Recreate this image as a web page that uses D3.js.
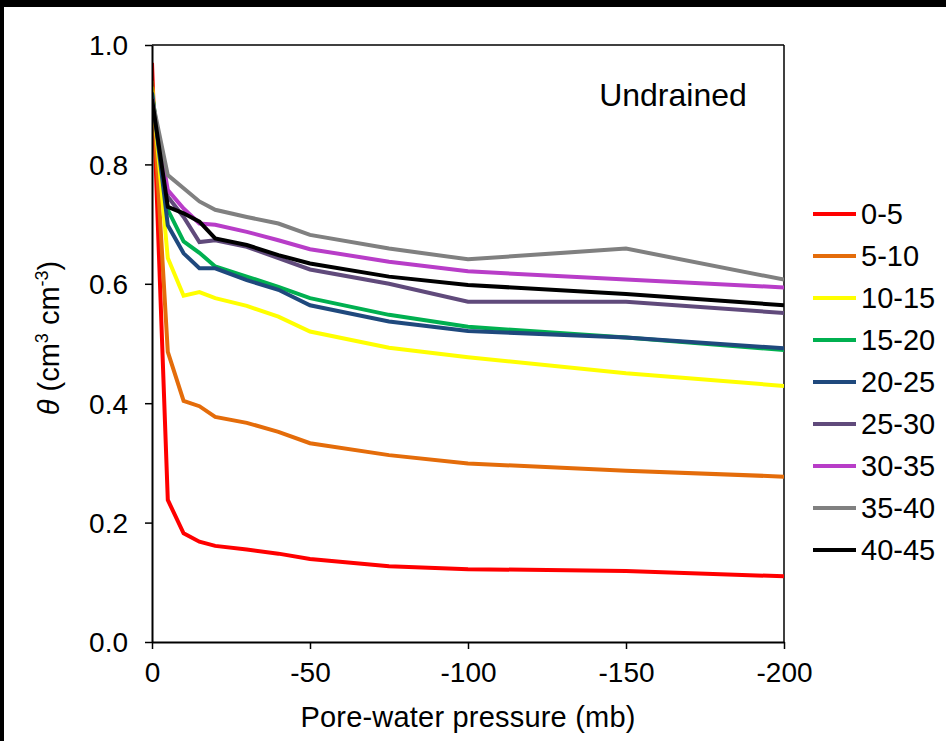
<!DOCTYPE html>
<html>
<head>
<meta charset="utf-8">
<script src="https://cdn.jsdelivr.net/npm/d3@7"></script>
<style>
  html, body { margin: 0; padding: 0; background: #fff; }
  svg { display: block; }
  text { font-family: "Liberation Sans", Arial, sans-serif; fill: #000; }
</style>
</head>
<body>
<script>
// ---- data ----
const pressures = [0, -5, -10, -15, -20, -30, -40, -50, -75, -100, -150, -200];
const depths = ["0-5", "5-10", "10-15", "15-20", "20-25", "25-30", "30-35", "35-40", "40-45"];
const colors = ["#FF0000", "#E46C0A", "#FFFF00", "#00B050", "#1F497D", "#604A7B", "#B83DC8", "#808080", "#000000"];
const s0_5   = [0.970, 0.238, 0.182, 0.168, 0.161, 0.155, 0.148, 0.139, 0.127, 0.122, 0.119, 0.110];
const s5_10  = [0.940, 0.486, 0.404, 0.395, 0.377, 0.367, 0.352, 0.333, 0.313, 0.299, 0.287, 0.277];
const s10_15 = [0.930, 0.643, 0.580, 0.586, 0.576, 0.563, 0.545, 0.520, 0.493, 0.477, 0.450, 0.429];
const s15_20 = [0.920, 0.724, 0.671, 0.652, 0.629, 0.612, 0.595, 0.576, 0.548, 0.528, 0.510, 0.489];
const s20_25 = [0.920, 0.698, 0.651, 0.626, 0.626, 0.606, 0.590, 0.564, 0.537, 0.521, 0.510, 0.492];
const s25_30 = [0.910, 0.746, 0.712, 0.670, 0.673, 0.662, 0.643, 0.624, 0.600, 0.570, 0.570, 0.551];
const s30_35 = [0.910, 0.757, 0.726, 0.701, 0.699, 0.687, 0.673, 0.658, 0.637, 0.621, 0.607, 0.594];
const s35_40 = [0.910, 0.782, 0.760, 0.738, 0.724, 0.712, 0.701, 0.682, 0.659, 0.641, 0.659, 0.607];
const s40_45 = [0.910, 0.729, 0.718, 0.704, 0.676, 0.665, 0.648, 0.634, 0.612, 0.598, 0.583, 0.564];
const seriesValues = [s0_5, s5_10, s10_15, s15_20, s20_25, s25_30, s30_35, s35_40, s40_45];
const xTicks = [0, -50, -100, -150, -200];
const yTicks = [0, 0.2, 0.4, 0.6, 0.8, 1.0];
const titleText = "Undrained";
const xLabel = "Pore-water pressure (mb)";

// ---- layout ----
const W = 946, H = 741;
const m = { left: 152, top: 45, right: 946 - 784, bottom: 741 - 642 };
const pw = W - m.left - m.right, ph = H - m.top - m.bottom;

const svg = d3.select("body").append("svg").attr("width", W).attr("height", H);
svg.append("rect").attr("width", W).attr("height", H).attr("fill", "#fff");
// dark frame edges
svg.append("rect").attr("x", 0).attr("y", 0).attr("width", W).attr("height", 7).attr("fill", "#000");
svg.append("rect").attr("x", 0).attr("y", 0).attr("width", 4).attr("height", H).attr("fill", "#000");

const x = d3.scaleLinear().domain([0, -200]).range([0, pw]);
const y = d3.scaleLinear().domain([0, 1]).range([ph, 0]);

const g = svg.append("g").attr("transform", `translate(${m.left},${m.top})`);

// plot border (top and right)
g.append("line").attr("x1", 0).attr("x2", pw).attr("y1", 0).attr("y2", 0).attr("stroke", "#000").attr("stroke-width", 1.5);
g.append("line").attr("x1", pw).attr("x2", pw).attr("y1", 0).attr("y2", ph).attr("stroke", "#000").attr("stroke-width", 1.5);

g.append("clipPath").attr("id", "clip").append("rect").attr("x", 0).attr("y", -5).attr("width", pw).attr("height", ph + 5);

const line = d3.line().x((d, i) => x(pressures[i])).y(d => y(d));
const lines = g.append("g").attr("clip-path", "url(#clip)");
seriesValues.forEach((vals, k) => {
  lines.append("path").datum(vals)
    .attr("d", line)
    .attr("fill", "none")
    .attr("stroke", colors[k])
    .attr("stroke-width", 4)
    .attr("stroke-linejoin", "miter");
});

// axes
const fs = 28;
const xAxis = d3.axisBottom(x).tickValues(xTicks).tickFormat(d => String(d)).tickSizeInner(7).tickSizeOuter(0).tickPadding(9);
const yAxis = d3.axisLeft(y).tickValues(yTicks).tickFormat(d3.format(".1f")).tickSizeInner(7).tickSizeOuter(0).tickPadding(17);

const gx = g.append("g").attr("transform", `translate(0,${ph})`).call(xAxis);
const gy = g.append("g").call(yAxis);
[gx, gy].forEach(a => {
  a.select(".domain").attr("stroke", "#000").attr("stroke-width", 2);
  a.selectAll(".tick line").attr("stroke", "#000").attr("stroke-width", 1.5);
  a.selectAll(".tick text").attr("font-size", fs).attr("font-family", "Liberation Sans, Arial, sans-serif").attr("fill", "#000");
});
gx.selectAll(".tick text").attr("dy", "0.85em");
gy.selectAll(".tick text").attr("dy", "0.35em");

// title inside plot
g.append("text").attr("x", x(-141.5)).attr("y", 61).attr("font-size", 32).text(titleText);

// x label
svg.append("text").attr("x", m.left + pw / 2).attr("y", 727).attr("text-anchor", "middle")
  .attr("font-size", 29).attr("letter-spacing", "0.2").text(xLabel);

// y label
const yl = svg.append("text").attr("transform", `translate(59,338) rotate(-90)`)
  .attr("text-anchor", "middle").attr("font-size", 29);
yl.append("tspan").attr("font-style", "italic").text("θ");
yl.append("tspan").text(" (cm");
yl.append("tspan").attr("font-size", 18).attr("dy", -11).text("3");
yl.append("tspan").attr("dy", 11).text(" cm");
yl.append("tspan").attr("font-size", 18).attr("dy", -11).text("-3");
yl.append("tspan").attr("dy", 11).text(")");

// legend
const legend = svg.append("g").attr("transform", "translate(813,214)");
depths.forEach((d, k) => {
  const row = legend.append("g").attr("transform", `translate(0,${k * 42})`);
  row.append("line").attr("x1", 0).attr("x2", 43).attr("y1", 0).attr("y2", 0)
    .attr("stroke", colors[k]).attr("stroke-width", 4);
  row.append("text").attr("x", 48).attr("y", 0).attr("dy", "0.35em").attr("font-size", 29).text(d);
});
</script>
</body>
</html>
